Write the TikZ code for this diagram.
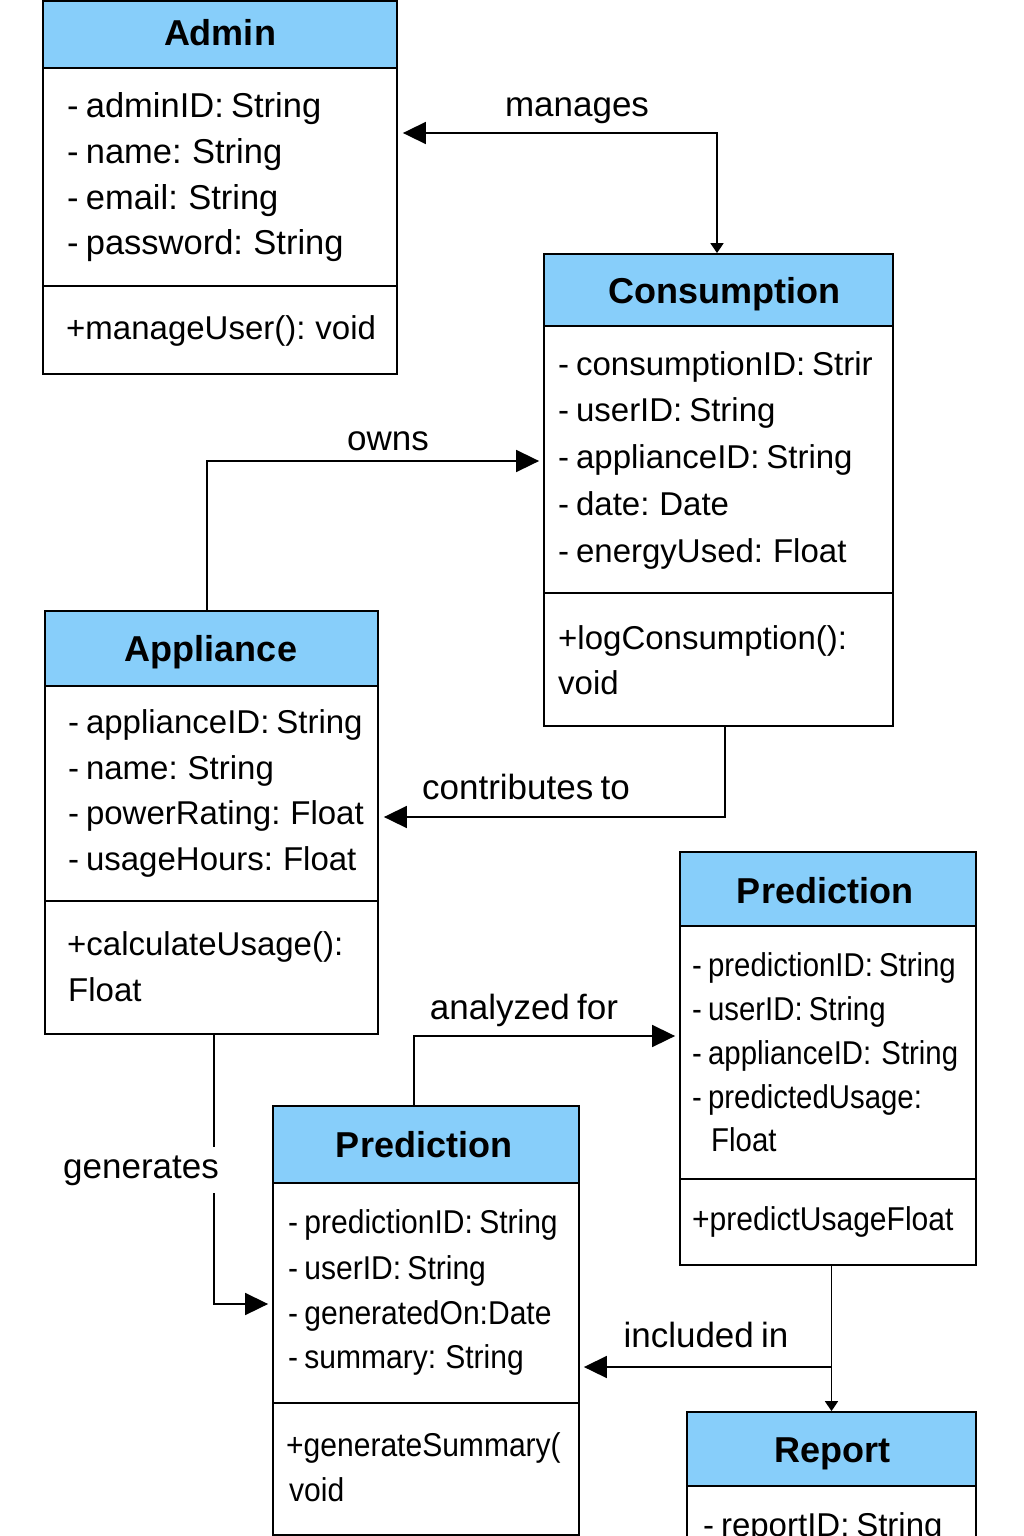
\documentclass[tikz,border=0pt]{standalone}
\usepackage{fontspec}
\setmainfont{Liberation Sans}[WordSpace=0.75]
\newfontfamily\condf{Liberation Sans}[FakeStretch=0.91,WordSpace=0.75]
\newfontfamily\condg{Liberation Sans}[FakeStretch=0.89,WordSpace=0.75]
\usetikzlibrary{arrows.meta,fit}
\definecolor{hdrblue}{RGB}{135,206,250}
\begin{document}
\begin{tikzpicture}[x=1pt,y=-1pt,
  classbox/.style={draw=black, line width=1.8pt, inner sep=0pt},
  sepline/.style={draw=black, line width=1.8pt},
  attr/.style={anchor=base west, inner sep=0pt, font=\fontsize{33}{40}\selectfont},
  aattr/.style={anchor=base west, inner sep=0pt, font=\fontsize{34.5}{40}\selectfont},
  pattr/.style={anchor=base west, inner sep=0pt, font=\condf\fontsize{33}{40}\selectfont},
  rattr/.style={anchor=base west, inner sep=0pt, font=\condg\fontsize{33}{40}\selectfont},
  ttl/.style={anchor=base, inner sep=0pt, font=\bfseries\fontsize{36}{42}\selectfont},
  lbl/.style={anchor=base, inner sep=0pt, font=\fontsize{35}{42}\selectfont},
  conn/.style={draw=black, line width=1.7pt},
  bigtip/.style={-{Triangle[length=23pt,width=22pt]}, shorten >=4pt},
  smalltip/.style={-{Triangle[length=10pt,width=13pt]}}
]
\clip (0,0) rectangle (1024,1536);
\fill[white] (0,0) rectangle (1024,1536);

% ---------- Admin ----------
\fill[hdrblue] (43,1) rectangle (397,68);
\node[classbox, fit={(43,1) (397,374)}] (admin) {};
\draw[sepline] (43,68) -- (397,68);
\draw[sepline] (43,286) -- (397,286);
\node[ttl] (admint) at (220,46) {Admin};
\node[aattr] (ad1) at (67,118) {- adminID: String};
\node[aattr] (ad2) at (67,163) {- name: String};
\node[aattr] (ad3) at (67,209) {- email: String};
\node[aattr] (ad4) at (67,254) {- password: String};
\node[attr] (adm1) at (66,339) {+manageUser(): void};

% ---------- Consumption ----------
\fill[hdrblue] (544,254) rectangle (893,326);
\node[classbox, fit={(544,254) (893,726)}] (cons) {};
\draw[sepline] (544,326) -- (893,326);
\draw[sepline] (544,593) -- (893,593);
\node[ttl] (const) at (724,303) {Consumption};
\node[attr] (co1) at (558,375) {- consumptionID: Strir};
\node[attr] (co2) at (558,421) {- userID: String};
\node[attr] (co3) at (558,468) {- applianceID: String};
\node[attr] (co4) at (558,515) {- date: Date};
\node[attr] (co5) at (558,562) {- energyUsed: Float};
\node[attr] (com1) at (558,649) {+logConsumption():};
\node[attr] (com2) at (558,694) {void};

% ---------- Appliance ----------
\fill[hdrblue] (45,611) rectangle (378,686);
\node[classbox, fit={(45,611) (378,1034)}] (appl) {};
\draw[sepline] (45,686) -- (378,686);
\draw[sepline] (45,901) -- (378,901);
\node[ttl] (applt) at (211,661) {Appliance};
\node[attr] (ap1) at (68,733) {- applianceID: String};
\node[attr] (ap2) at (68,779) {- name: String};
\node[attr] (ap3) at (68,824) {- powerRating: Float};
\node[attr] (ap4) at (68,870) {- usageHours: Float};
\node[attr] (apm1) at (67,955) {+calculateUsage():};
\node[attr] (apm2) at (68,1001) {Float};

% ---------- Prediction (right) ----------
\fill[hdrblue] (680,852) rectangle (976,926);
\node[classbox, fit={(680,852) (976,1265)}] (rpred) {};
\draw[sepline] (680,926) -- (976,926);
\draw[sepline] (680,1179) -- (976,1179);
\node[ttl] (rpredt) at (825,903) {Prediction};
\node[rattr] (rp1) at (692,976) {- predictionID: String};
\node[rattr] (rp2) at (692,1020) {- userID: String};
\node[rattr] (rp3) at (692,1064) {- applianceID:\hspace{4pt} String};
\node[rattr] (rp4) at (692,1108) {- predictedUsage:};
\node[rattr] (rp5) at (711,1151) {Float};
\node[pattr] (rpm1) at (692,1230) {+predictUsageFloat};

% ---------- Prediction (lower) ----------
\fill[hdrblue] (273,1106) rectangle (579,1183);
\node[classbox, fit={(273,1106) (579,1535)}] (lpred) {};
\draw[sepline] (273,1183) -- (579,1183);
\draw[sepline] (273,1403) -- (579,1403);
\node[ttl] (lpredt) at (424,1157) {Prediction};
\node[pattr] (lp1) at (288,1233) {- predictionID: String};
\node[pattr] (lp2) at (288,1279) {- userID: String};
\node[pattr] (lp3) at (288,1324) {- generatedOn:Date};
\node[pattr] (lp4) at (288,1368) {- summary: String};
\node[pattr] (lpm1) at (286,1456) {+generateSummary(};
\node[pattr] (lpm2) at (289,1501) {void};

% ---------- Report ----------
\fill[hdrblue] (687,1412) rectangle (976,1486);
\node[classbox, fit={(687,1412) (976,1560)}] (report) {};
\draw[sepline] (687,1486) -- (976,1486);
\node[ttl] (reportt) at (832,1462) {Report};
\node[attr] (re1) at (703,1536) {- reportID: String};

% ---------- level coordinates ----------
\coordinate (ym) at (0,133);
\coordinate (yo) at (0,461);
\coordinate (yc) at (0,817);
\coordinate (ya) at (0,1036);
\coordinate (yg) at (0,1304);
\coordinate (yi) at (0,1367);

% ---------- connectors ----------
% manages
\draw[conn, {Triangle[length=23pt,width=22pt]}-{Triangle[length=10pt,width=13pt]}, shorten <=5pt]
  (admin.east |- ym) -| ([xshift=-1.5pt]cons.north);
\node[lbl] (lmanages) at (577,117) {manages};

% owns
\draw[conn, bigtip] ([xshift=-4.5pt]appl.north) |- (cons.west |- yo);
\node[lbl] (lowns) at (388,450) {owns};

% contributes to
\draw[conn, bigtip, shorten >=5pt] ([xshift=6.5pt]cons.south) |- (appl.east |- yc);
\node[lbl] (lcontrib) at (526,799) {contributes to};

% analyzed for
\draw[conn, bigtip] ([xshift=-12pt]lpred.north) |- (rpred.west |- ya);
\node[lbl] (lanalyzed) at (524,1019) {analyzed for};

% generates
\draw[conn, bigtip] ([xshift=2.5pt]appl.south) |- (lpred.west |- yg);
\node[lbl, fill=white, inner xsep=3pt, inner ysep=8pt] (lgen) at (141,1178) {generates};

% included in
\coordinate (ji) at (report.north |- yi);
\draw[conn, smalltip] (rpred.south -| report.north) -- (report.north);
\draw[conn, bigtip] (ji) -- (lpred.east |- yi);
\node[lbl] (lincl) at (706,1347) {included in};
\end{tikzpicture}
\end{document}
